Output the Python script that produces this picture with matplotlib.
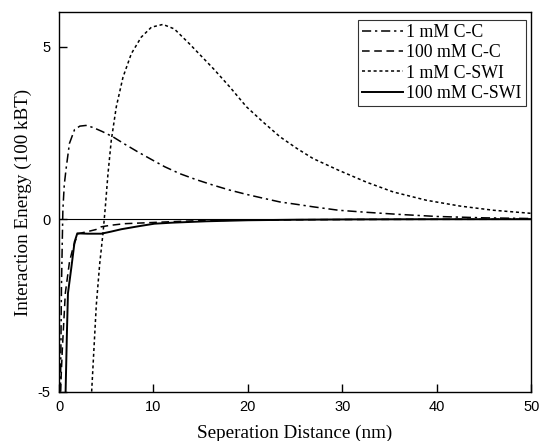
import matplotlib
matplotlib.use("Agg")
import matplotlib.pyplot as plt

plt.rcParams["font.family"] = "Liberation Sans"
plt.rcParams["axes.unicode_minus"] = False

# ── Data ──────────────────────────────────────────────────────────────────────
cc1_x = [0.15, 0.25, 0.4, 0.55, 0.76, 1.1, 1.64, 2.2, 2.85, 3.6, 4.6, 5.7, 7.0,
         8.36, 9.8, 11.2, 12.8, 14.5, 16.3, 18.0, 19.85, 21.6, 23.4, 25.2, 26.9,
         29.6, 32.6, 36, 40, 45, 50]
cc1_y = [-5, -2.0, 0.26, 1.0, 1.5, 2.2, 2.6, 2.7, 2.72, 2.66, 2.54, 2.39, 2.17,
         1.95, 1.73, 1.52, 1.32, 1.15, 0.99, 0.85, 0.72, 0.61, 0.5, 0.43, 0.36,
         0.26, 0.2, 0.14, 0.08, 0.04, 0.02]

cc100_x = [0.15, 0.34, 0.66, 1.1, 1.5, 2.0, 3.0, 3.9, 4.47, 5.35, 6.9, 9.5,
           11.2, 14, 18, 25, 35, 50]
cc100_y = [-5, -3.8, -2.15, -1.24, -0.8, -0.42, -0.36, -0.3, -0.22, -0.18, -0.13,
           -0.1, -0.08, -0.05, -0.03, -0.015, -0.005, 0]

swi1_x = [3.45, 3.94, 4.3, 4.65, 4.9, 5.18, 5.53, 6.06, 6.77, 7.65, 8.7, 9.78,
          11.0, 12.2, 13.8, 16.4, 18.1, 19.85, 21.6, 23.4, 25.2, 26.9, 29.6, 32.6,
          35.4, 38.9, 42.5, 46, 50]
swi1_y = [-5, -2.5, -1.3, -0.41, 0.36, 1.32, 2.29, 3.26, 4.12, 4.8, 5.28, 5.57,
          5.65, 5.52, 5.09, 4.35, 3.83, 3.26, 2.82, 2.39, 2.05, 1.76, 1.42, 1.07,
          0.79, 0.55, 0.38, 0.26, 0.17]

swi100_x = [0.69, 0.83, 0.94, 1.3, 1.64, 1.93, 3.0, 4.47, 5.5, 6.6, 8.5, 10.1, 12,
            15.6, 20, 25, 31, 40, 50]
swi100_y = [-5, -3.3, -2.15, -1.4, -0.66, -0.41, -0.42, -0.42, -0.36, -0.29, -0.2,
            -0.13, -0.1, -0.06, -0.03, -0.015, -0.005, 0, 0]

labels = ["1 mM C-C", "100 mM C-C", "1 mM C-SWI", "100 mM C-SWI"]

# ── Figure ────────────────────────────────────────────────────────────────────
fig = plt.figure(figsize=(5.42, 4.41), dpi=100)
ax = fig.add_axes([0.109, 0.112, 0.871, 0.860])

ax.axhline(0, color="black", lw=0.8)
ax.plot(cc1_x, cc1_y, color="black", lw=1.1, ls=(0, (6, 2.5, 1.5, 2.5)), label=labels[0])
ax.plot(cc100_x, cc100_y, color="black", lw=1.1, ls=(0, (5, 3)), label=labels[1])
ax.plot(swi1_x, swi1_y, color="black", lw=1.1, ls=(0, (2, 1.8)), label=labels[2])
ax.plot(swi100_x, swi100_y, color="black", lw=1.4, ls="-", label=labels[3])

ax.set_xlim(0, 50)
ax.set_ylim(-5, 6)
ax.set_xticks([0, 10, 20, 30, 40, 50])
ax.set_yticks([-5, 0, 5])
ax.tick_params(direction="in", length=6, width=1, top=False, right=False,
               labelsize=10.5, pad=6)
for s in ax.spines.values():
    s.set_linewidth(1)

ax.set_xlabel("Seperation Distance (nm)", fontfamily="Liberation Serif", fontsize=13.8,
              labelpad=8)
ax.set_ylabel("Interaction Energy (100 kBT)", fontfamily="Liberation Serif",
              fontsize=13.8, labelpad=4)

leg = ax.legend(loc="upper right", bbox_to_anchor=(0.996, 0.99), frameon=True,
                fancybox=False, edgecolor="black", handlelength=2.3,
                handletextpad=0.15, borderpad=0.25, labelspacing=0.18,
                borderaxespad=0.2, prop={"family": "Liberation Serif", "size": 12.8})
leg.get_frame().set_linewidth(0.8)

fig.savefig("out.png", dpi=100)
